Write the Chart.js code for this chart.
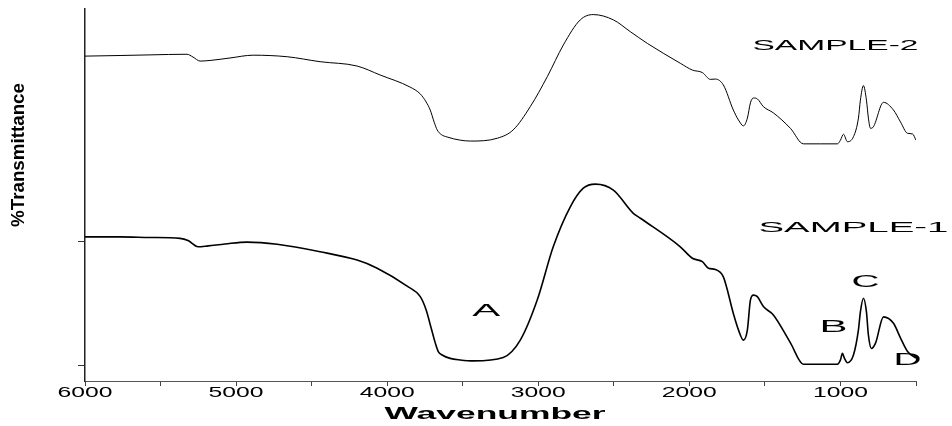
<!DOCTYPE html>
<html lang="en">
<head>
    <meta charset="UTF-8">
    <title>FTIR Spectra</title>
    <script src="https://cdn.jsdelivr.net/npm/chart.js"></script>
    <style>
        html, body { margin: 0; padding: 0; background: #fff; }
        #wrap { width: 952px; height: 426px; }
    </style>
</head>
<body>
    <div id="wrap"><canvas id="ftirChart" width="952" height="426"></canvas></div>

    <script>
        // wavenumber (cm-1) and transmittance (arbitrary offset units)
        var wn1 = [6000,5768,5570,5371,5318,5252,5185,5073,4927,4728,4444,4199,4066,3868,3781,3742,3709,3682,3662,3636,
                   3583,3517,3430,3232,3119,3007,2901,2788,2702,2622,2503,2371,2324,2060,1980,1914,1874,1828,1775,1709,
                   1675,1642,1616,1596,1576,1550,1510,1444,1331,1245,1133,1020,1000,987,974,954,914,881,868,848,
                   828,815,795,768,715,649,603,556,500];
        var sample1 = [41.5,41.5,41.3,41.0,40.3,38.3,38.6,39.2,39.8,39.1,36.7,34.0,31.4,25.6,22.2,17.9,12.1,7.3,4.5,3.4,
                   2.3,1.8,1.5,2.6,8.2,21.1,38.3,51.2,57.2,58.5,56.6,49.1,47.5,38.3,34.6,33.5,31.4,31.0,28.6,16.8,
                   11.5,8.2,11.5,21.1,22.7,22.2,19.0,16.3,7.3,0.4,0.4,0.4,1.8,3.9,2.4,0.9,3.4,11.5,17.3,21.7,
                   17.3,9.8,5.5,7.2,15.7,13.6,8.9,4.5,2.4];

        var wn2 = [6000,5768,5570,5325,5285,5238,5172,5040,4887,4662,4444,4199,4046,3848,3781,3742,3715,3689,3669,3642,
                   3603,3517,3450,3272,3166,3053,2940,2834,2722,2636,2503,2391,2278,2060,1980,1914,1861,1828,1775,1709,
                   1675,1642,1616,1596,1576,1550,1510,1444,1331,1245,1133,1020,1000,980,954,914,881,868,848,828,
                   815,801,782,715,649,603,556,523,500];
        var sample2 = [99.8,100.0,100.2,100.4,99.5,98.2,98.4,99.2,100.1,99.6,98.0,96.6,93.7,89.8,87.6,85.0,82.4,78.5,76.0,74.5,
                   73.7,72.7,72.4,73.3,76.0,83.5,93.2,103.4,111.5,113.2,111.5,107.7,103.9,97.5,95.3,94.5,92.3,92.4,90.5,82.4,
                   79.2,77.3,79.8,84.7,86.3,86.0,83.5,81.5,76.5,71.5,71.5,71.5,72.7,74.6,72.2,73.8,79.8,85.6,90.3,85.6,
                   79.8,76.5,77.0,84.9,82.4,78.6,74.9,74.7,72.7];

        var xTickLabels = [6000, 5000, 4000, 3000, 2000, 1000];
        var yTicks = [0, 40];

        // text marks: [text, wavenumber, transmittance]
        var seriesNames = [['SAMPLE-2', 1033, 103.2], ['SAMPLE-1', 914, 44.5]];
        var bandLabels = [['A', 3344, 17.6], ['B', 1046, 12.3], ['C', 834, 26.8], ['D', 556, 1.8]];

        function toPoints(xs, ys) {
            return xs.map(function (x, i) { return { x: x, y: ys[i] }; });
        }

        // draw text stretched to a given width (the original uses very wide lettering)
        function wideText(ctx, text, cx, cy, font, w, h, angle) {
            ctx.save();
            ctx.font = font;
            var natural = ctx.measureText(text).width;
            ctx.translate(cx, cy);
            if (angle) ctx.rotate(angle);
            ctx.scale(w / natural, h || 1);
            ctx.textAlign = 'center';
            ctx.textBaseline = 'middle';
            ctx.fillStyle = '#000';
            ctx.fillText(text, 0, 0);
            ctx.restore();
        }

        var textPlugin = {
            id: 'ftirText',
            afterDraw: function (chart) {
                var ctx = chart.ctx;
                var xs = chart.scales.x, ys = chart.scales.y;

                xTickLabels.forEach(function (v) {
                    wideText(ctx, String(v), xs.getPixelForValue(v), 393, '14px Arial, "Liberation Sans"', 55);
                });

                seriesNames.forEach(function (s) {
                    wideText(ctx, s[0], xs.getPixelForValue(s[1]), ys.getPixelForValue(s[2]),
                        '15px Arial, "Liberation Sans"', s[0] === 'SAMPLE-1' ? 190 : 166);
                });
                bandLabels.forEach(function (b) {
                    wideText(ctx, b[0], xs.getPixelForValue(b[1]), ys.getPixelForValue(b[2]),
                        '17px Arial, "Liberation Sans"', 28);
                });

                wideText(ctx, 'Wavenumber', 495, 414, 'bold 17px Arial, "Liberation Sans"', 221);
                wideText(ctx, '%Transmittance', 19, 155, 'bold 15px Arial, "Liberation Sans"', 144, 1.2, -Math.PI / 2);
            }
        };

        var ctx = document.getElementById('ftirChart').getContext('2d');
        var chart = new Chart(ctx, {
            type: 'line',
            data: {
                datasets: [{
                    label: 'SAMPLE-1',
                    data: toPoints(wn1, sample1),
                    borderColor: '#000',
                    borderWidth: 1.6,
                    pointRadius: 0,
                    cubicInterpolationMode: 'monotone',
                    fill: false
                }, {
                    label: 'SAMPLE-2',
                    data: toPoints(wn2, sample2),
                    borderColor: '#000',
                    borderWidth: 1,
                    pointRadius: 0,
                    cubicInterpolationMode: 'monotone',
                    fill: false
                }]
            },
            options: {
                responsive: false,
                animation: false,
                layout: { padding: { top: 9, right: 36, left: 0, bottom: 0 } },
                plugins: {
                    legend: { display: false },
                    tooltip: { enabled: false }
                },
                scales: {
                    x: {
                        type: 'linear',
                        reverse: true,
                        min: 500,
                        max: 6000,
                        ticks: { display: false, stepSize: 500 },
                        grid: { drawOnChartArea: false, drawTicks: true, tickLength: 5, tickColor: '#444' },
                        border: { display: true, color: '#555', width: 1 },
                        afterFit: function (s) { s.height = 45; }
                    },
                    y: {
                        min: -5,
                        max: 115,
                        ticks: { display: false },
                        afterBuildTicks: function (s) {
                            s.ticks = yTicks.map(function (v) { return { value: v }; });
                        },
                        grid: { drawOnChartArea: false, drawTicks: true, tickLength: 7, tickColor: '#333' },
                        border: { display: true, color: '#222', width: 1.5 },
                        afterFit: function (s) { s.width = 85; }
                    }
                }
            },
            plugins: [textPlugin]
        });
    </script>
</body>
</html>
